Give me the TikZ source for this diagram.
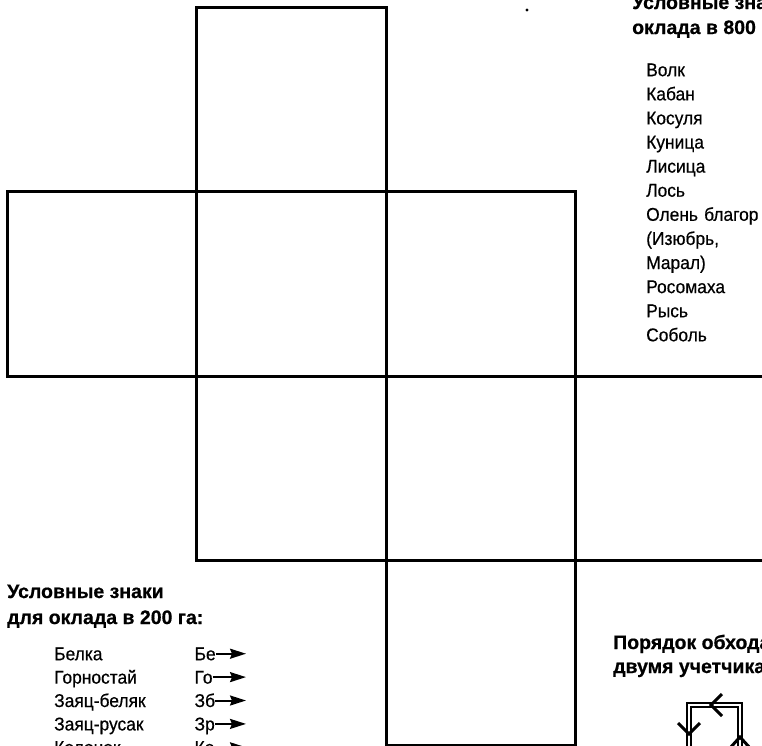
\documentclass[tikz,border=0pt]{standalone}
\usepackage{fontspec}
\setmainfont{Liberation Sans}
\newfontfamily\keyfont[FakeStretch=0.94, FakeBold=0.5]{Liberation Sans}
\newfontfamily\headfont[FakeBold=0.6]{Liberation Sans}
\usetikzlibrary{arrows.meta, positioning}

\begin{document}
\begin{tikzpicture}[x=1pt, y=-1pt,
    cell/.style={draw=black, line width=2.6pt, minimum width=189.5pt, minimum height=184.5pt, inner sep=0pt, outer sep=0pt},
    heading/.style={font=\headfont\bfseries\fontsize{19.5}{22}\selectfont, anchor=base west, inner sep=0pt},
    entry/.style={font=\keyfont\fontsize{18.5}{20}\selectfont, inner sep=0pt, text width=120pt, align=left, text height=13.5pt, text depth=4.5pt},
    species/.style={entry, text width=116pt},
    abbr/.style={font=\keyfont\fontsize{18.5}{20}\selectfont, inner sep=0pt, text height=13pt, text depth=0pt},
    pointer/.style={-{Stealth[length=16pt, width=10pt, inset=2pt]}, line width=2pt},
    route/.style={double, line width=1.4pt, double distance=2.6pt},
    chevron/.style={line width=3pt}
]
    \useasboundingbox (0,0) rectangle (762,745);
    \clip (0,0) rectangle (762,745);

    % Grid of squares
    \node[cell] (top) at (291.5,99.5) {};
    \node[cell, below=0pt of top] (centre) {};
    \node[cell, left=0pt of centre] (west) {};
    \node[cell, right=0pt of centre] (east) {};
    \node[cell, below=0pt of centre] (south) {};
    \node[cell, right=0pt of south] (southeast) {};
    \node[cell, right=0pt of southeast] (far) {};
    \node[cell, below=0pt of southeast] (bottom) {};

    \fill (527,10) circle (1.6pt);

    % Legend for 800 ha
    \node[heading] (legendA1) at (632,9) {Условные зна};
    \node[heading] (legendA2) at (632,34) {оклада в 800};

    \node[species, anchor=north west] (volk) at (646,62.5) {Волк};
    \node[species, below=5.7pt of volk] (kaban) {Кабан};
    \node[species, below=5.7pt of kaban] (kosulya) {Косуля};
    \node[species, below=5.7pt of kosulya] (kunica) {Куница};
    \node[species, below=5.7pt of kunica] (lisica) {Лисица};
    \node[species, below=5.7pt of lisica] (los) {Лось};
    \node[species, below=5.7pt of los] (olen) {Олень благор};
    \node[species, below=5.7pt of olen] (izyubr) {(Изюбрь,};
    \node[species, below=5.7pt of izyubr] (maral) {Марал)};
    \node[species, below=5.7pt of maral] (rosomaha) {Росомаха};
    \node[species, below=5.7pt of rosomaha] (rys) {Рысь};
    \node[species, below=5.7pt of rys] (sobol) {Соболь};

    % Legend for 200 ha
    \node[heading] (legendB1) at (7,598) {Условные знаки};
    \node[heading] (legendB2) at (7,624) {для оклада в 200 га:};

    \node[entry, anchor=north west] (belka) at (54,646.5) {Белка};
    \node[entry, below=5pt of belka] (gornostai) {Горностай};
    \node[entry, below=5pt of gornostai] (zayacb) {Заяц-беляк};
    \node[entry, below=5pt of zayacb] (zayacr) {Заяц-русак};
    \node[entry, below=5pt of zayacr] (kolonok) {Колонок};

    \node[abbr, base right=20pt of belka] (be) {Бе};
    \node[abbr, base right=20pt of gornostai] (go) {Го};
    \node[abbr, base right=20pt of zayacb] (zb) {Зб};
    \node[abbr, base right=20pt of zayacr] (zr) {Зр};
    \node[abbr, base right=20pt of kolonok] (ko) {Ко};

    \coordinate (tipline) at (246,0);
    \draw[pointer] (be.east) -- (be.east -| tipline);
    \draw[pointer] (go.east) -- (go.east -| tipline);
    \draw[pointer] (zb.east) -- (zb.east -| tipline);
    \draw[pointer] (zr.east) -- (zr.east -| tipline);
    \draw[pointer] (ko.east) -- (ko.east -| tipline);

    % Route of two counters
    \node[heading] (legendC1) at (613,649) {Порядок обхода};
    \node[heading] (legendC2) at (613,673) {двумя учетчика};

    \coordinate (r1) at (689,760);
    \coordinate (r2) at (689,705);
    \coordinate (r3) at (740,705);
    \coordinate (r4) at (740,760);
    \draw[route] (r1) -- (r2) -- (r3) -- (r4);

    \draw[chevron] (722,694) -- (711,705) -- (722,716);
    \draw[chevron] (678,723) -- (689,734) -- (700,723);
    \draw[chevron] (730,748) -- (740,737) -- (750,748);
\end{tikzpicture}
\end{document}
